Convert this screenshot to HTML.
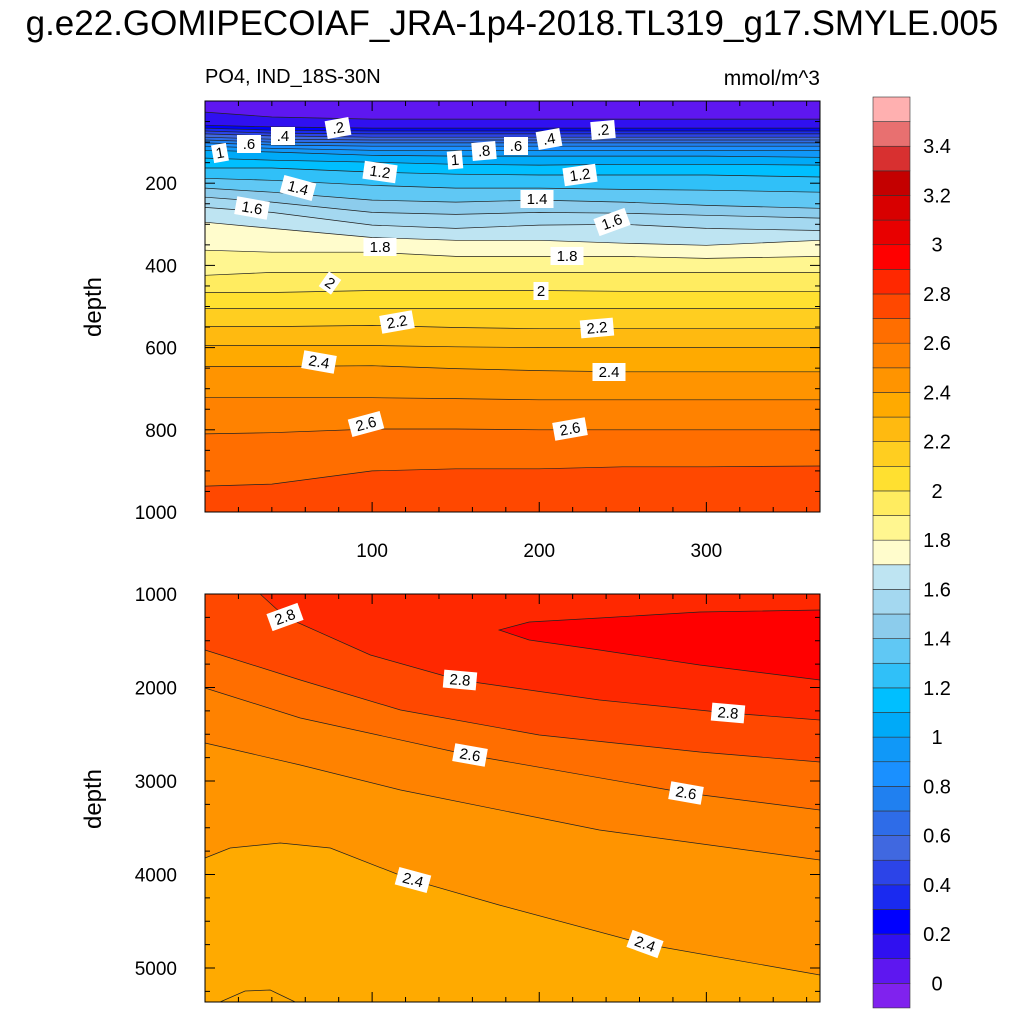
<!DOCTYPE html>
<html><head><meta charset="utf-8"><style>
body{margin:0;background:#fff}
svg{display:block;font-family:"Liberation Sans",sans-serif}
</style></head><body>
<svg id="c" width="1024" height="1024" viewBox="0 0 1024 1024" xmlns="http://www.w3.org/2000/svg">
<text x="512" y="35" text-anchor="middle" font-size="35">g.e22.GOMIPECOIAF_JRA-1p4-2018.TL319_g17.SMYLE.005</text>
<text x="205" y="83" font-size="20">PO4, IND_18S-30N</text>
<text x="820" y="85" font-size="21" text-anchor="end">mmol/m^3</text>
<text transform="translate(101,307) rotate(-90)" text-anchor="middle" font-size="24">depth</text>
<text transform="translate(101,799) rotate(-90)" text-anchor="middle" font-size="24">depth</text>
<g id="topPanel"></g>
<g id="botPanel"></g>
<g id="cbar"></g>
</svg>
<script>
// colour levels
const levels = [0,0.1,0.2,0.3,0.4,0.5,0.6,0.7,0.8,0.9,1.0,1.1,1.2,1.3,1.4,1.5,1.6,1.7,1.8,1.9,2.0,2.1,2.2,2.3,2.4,2.5,2.6,2.7,2.8,2.9,3.0,3.1,3.2,3.3,3.4,3.5];
const colors = ["#8022EE","#5E17F0","#3010F0","#0000FF","#1A2AF0","#2C44E8","#4068E0","#2E6CE8","#2080F0","#1A90FF","#1098F8","#00AAF8","#00BFFF","#30C0F8","#60C8F4","#8CCCEC","#A4D8F0","#BEE4F2","#FFFCCC","#FFF690","#FFEC60","#FFE030","#FFCE20","#FFBA10","#FFAA00","#FF9400","#FF8200","#FF6E00","#FF4800","#FF2800","#FF0000","#E80000","#D80000","#C40000","#D83030","#E87070","#FFB0B0"];
const cbarLabels = ["0","0.2","0.4","0.6","0.8","1","1.2","1.4","1.6","1.8","2","2.2","2.4","2.6","2.8","3","3.2","3.4"];
// top panel: contour depths (m) at stations
const topStations = [0,40,100,150,200,250,300,368];
const topLevels = [0.1,0.2,0.3,0.4,0.5,0.6,0.7,0.8,0.9,1.0,1.1,1.2,1.3,1.4,1.5,1.6,1.7,1.8,1.9,2.0,2.1,2.2,2.3,2.4,2.5,2.6,2.7];
const topDepths = [
[27,39,44,44,44,44,44,44],[59,63,66,66,66,66,66,66],[66,71,73,73,73,73,73,73],[73,78,80,80,80,80,80,80],
[80,85,88,88,88,88,88,88],[88,93,95,95,95,95,95,95],[95,100,102,102,102,102,102,102],[102,107,110,110,110,110,110,110],
[110,115,120,120,120,120,120,120],[120,124,132,134,134,134,134,137],[139,144,149,154,156,154,154,156],
[163,163,173,178,180,180,180,185],[188,193,205,212,212,215,217,222],[212,222,241,246,241,246,254,261],
[234,246,271,276,271,273,278,285],[259,271,302,310,302,300,310,315],[295,310,332,339,339,346,351,339],
[363,368,368,378,378,378,383,378],[424,417,417,417,417,417,417,417],[466,466,461,461,461,463,463,463],
[505,505,505,505,505,505,505,505],[549,549,546,551,554,554,554,554],[595,595,595,598,600,600,600,600],
[646,646,644,651,656,659,659,659],[722,722,722,724,727,727,727,727],[810,807,798,798,800,800,800,800],
[937,932,900,895,895,890,890,888]];
const topLabels = [[".2",338,128,-10],[".4",283,136,0],[".6",249,144,0],["1",220,153,-10],["1.4",298,188,15],["1.6",252,208,10],["1.2",380,172,8],["1",455,160,-5],[".8",484,151,-5],[".6",516,146,0],[".4",549,139,-10],[".2",603,130,-5],["1.2",580,175,-8],["1.4",537,199,0],["1.6",612,222,-20],["1.8",380,247,0],["1.8",567,256,0],["2",330,283,35],["2",541,291,0],["2.2",397,322,-10],["2.2",597,328,-5],["2.4",319,362,10],["2.4",609,372,0],["2.6",366,424,-15],["2.6",570,429,-10]];
// bottom panel contours: x values and depths
const botLevels = [2.4,2.5,2.6,2.7,2.8,2.9];
const botX = [[0,15,45,75,124,176,263,368],[0,57,117,236,368],[0,57,158,288,368],[0,57,117,200,296,368],[33,48,99,152,236,313,368],[368,296,236,194,176,194,236,296,368]];
const botD = [[3824,3717,3663,3717,4059,4326,4743,5075],[2594,2829,3096,3524,3845],[2005,2326,2722,3128,3310],[1599,1920,2241,2508,2690,2797],[1000,1246,1652,1920,2134,2273,2348],[1171,1193,1257,1299,1385,1492,1599,1759,1920]];
const bowlX = [9,24,39,54];
const bowlD = [5364,5246,5235,5364];
const botLabels = [["2.8",285,617,-20],["2.8",460,680,5],["2.8",728,713,5],["2.6",470,755,10],["2.6",686,793,10],["2.4",413,880,15],["2.4",645,944,20]];
const xTicks = [100,200,300];
const topYTicks = [200,400,600,800,1000];
const botYTicks = [1000,2000,3000,4000,5000];

const NS="http://www.w3.org/2000/svg";
function mk(tag,attrs,parent){const e=document.createElementNS(NS,tag);for(const k in attrs)e.setAttribute(k,attrs[k]);parent.appendChild(e);return e;}
const L=205,R=820;
const xs=v=>L+(v/368)*(R-L);
const yTop=d=>101+d*0.411;
const yBot=d=>594+(d-1000)*0.0935;
function colorFor(v){let i=0;while(i<levels.length&&levels[i]<=v+1e-9)i++;return colors[i];}
function pts(xa,da,ys){return xa.map((x,i)=>xs(x).toFixed(1)+","+ys(da[i]).toFixed(1));}

// TOP PANEL
const topG=document.getElementById('topPanel');
let r=mk('rect',{x:L,y:101,width:R-L,height:411,fill:colors[1]},topG);


topLevels.forEach((lv,k)=>{
  const p=pts(topStations,topDepths[k],yTop);
  const poly=mk('polygon',{points:p.join(" ")+" "+R+",512 "+L+",512",fill:colorFor(lv)},topG);
  
  
});
topLevels.forEach((lv,k)=>{
  const p=pts(topStations,topDepths[k],yTop);
  const ln=mk('polyline',{points:p.join(" "),fill:"none",stroke:"#222",'stroke-width':0.7},topG);
  
  
});
// BOTTOM PANEL
const botG=document.getElementById('botPanel');
r=mk('rect',{x:L,y:594,width:R-L,height:408,fill:colors[24]},botG);


botLevels.forEach((lv,k)=>{
  const p=pts(botX[k],botD[k],yBot);
  const closed = lv===2.9 ? p.join(" ") : (lv===2.8 ? p.join(" ")+" "+R+",594" : p.join(" ")+" "+R+",594 "+L+",594");
  const poly=mk('polygon',{points:closed,fill:colorFor(lv)},botG);
  
  
  const ln=mk('polyline',{points:p.join(" "),fill:"none",stroke:"#222",'stroke-width':0.7},botG);
  
  
});
const bowl=mk('polyline',{points:pts(bowlX,bowlD,yBot).join(" "),fill:"none",stroke:"#222",'stroke-width':0.7},botG);



function labels(arr,parent,prefix){
  arr.forEach(([t,x,y,rot],i)=>{
    const g=mk('g',{transform:`translate(${x},${y}) rotate(${rot})`},parent);
    
    
    const w=t.length*9+6;
    mk('rect',{x:-w/2,y:-9,width:w,height:18,fill:"#fff"},g);
    const tx=mk('text',{x:0,y:5,'text-anchor':'middle','font-size':15},g);
    tx.textContent=t;
  });
}
labels(topLabels,topG,'top-contour');
labels(botLabels,botG,'bottom-contour');

function frame(parent,y0,y1,ys,yticks,minorStep,ymin,ymax,showX,name){
  const f=mk('rect',{x:L,y:y0,width:R-L,height:y1-y0,fill:"none",stroke:"#000",'stroke-width':1},parent);
  
  
  for(let v=0;v<=368;v+=20){const maj=v%100===0;const len=maj?10:5;
    mk('line',{x1:xs(v),y1:y0,x2:xs(v),y2:y0+len,stroke:"#000"},parent);
    mk('line',{x1:xs(v),y1:y1,x2:xs(v),y2:y1-len,stroke:"#000"},parent);}
  for(let v=Math.ceil(ymin/minorStep)*minorStep;v<=ymax;v+=minorStep){const maj=yticks.includes(v);const len=maj?10:5;
    mk('line',{x1:L,y1:ys(v),x2:L+len,y2:ys(v),stroke:"#000"},parent);
    mk('line',{x1:R,y1:ys(v),x2:R-len,y2:ys(v),stroke:"#000"},parent);}
  yticks.forEach(v=>{const t=mk('text',{x:177,y:ys(v)+7,'text-anchor':'end','font-size':19},parent);t.textContent=v;
    
    });
  if(showX)xTicks.forEach(v=>{const t=mk('text',{x:xs(v),y:y1+45,'text-anchor':'middle','font-size':19},parent);t.textContent=v;
    
    });
}
frame(topG,101,512,yTop,topYTicks,50,0,1000,true,'top');
frame(botG,594,1002,yBot,botYTicks,250,1000,5364,false,'bottom');

// COLORBAR
const cb=document.getElementById('cbar');
const cbTop=97,cbH=24.62;
for(let i=0;i<colors.length;i++){
  const y=cbTop+(colors.length-1-i)*cbH;
  const b=mk('rect',{x:873,y:y,width:37,height:cbH,fill:colors[i],stroke:"#333",'stroke-width':0.6},cb);
  
  
}
cbarLabels.forEach((t,i)=>{
  const y=cbTop+(colors.length-1)*cbH - i*2*cbH;
  const tx=mk('text',{x:937,y:y+7,'text-anchor':'middle','font-size':20},cb);
  tx.textContent=t;
  
  
});
</script>
</body></html>
